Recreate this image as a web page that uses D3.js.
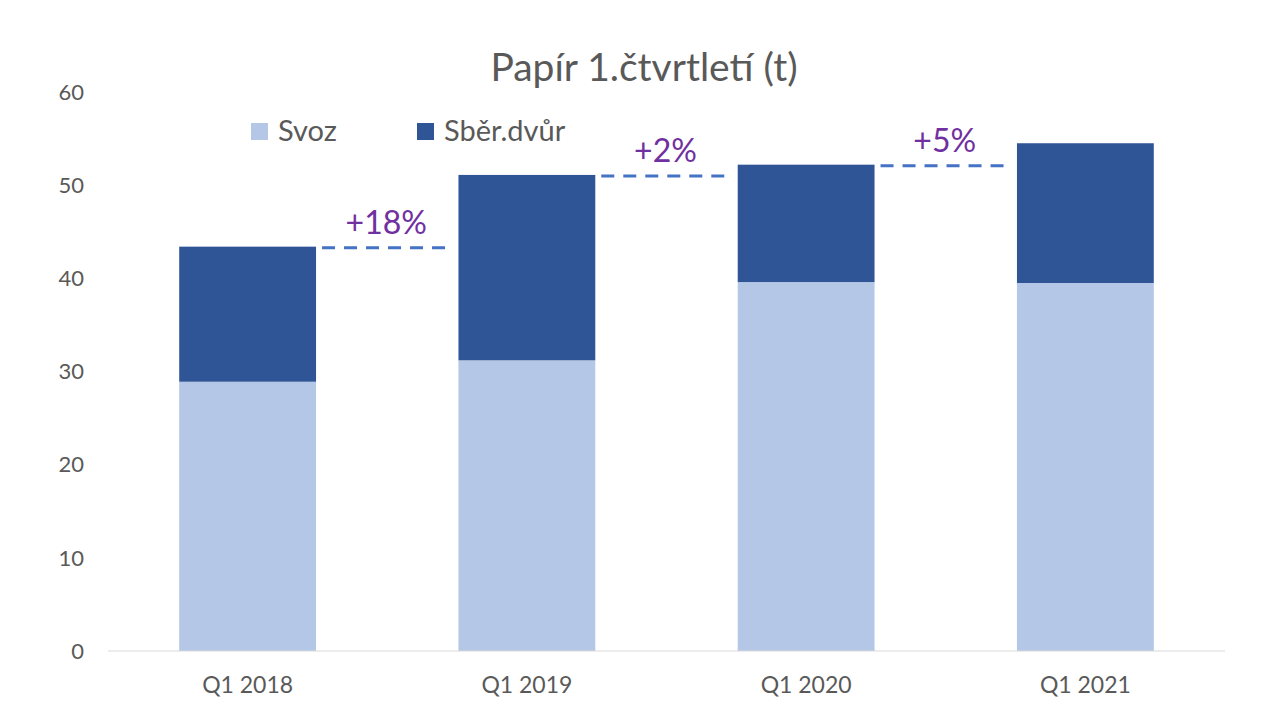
<!DOCTYPE html>
<html>
<head>
<meta charset="utf-8">
<script src="https://cdn.jsdelivr.net/npm/d3@7"></script>
<style>
  body { margin: 0; background: #fff; }
  text { font-family: Lato, "Open Sans", sans-serif; }
</style>
</head>
<body>
<div id="chart"></div>
<script>
const categories = ["Q1 2018", "Q1 2019", "Q1 2020", "Q1 2021"];
const svoz = [28.9, 31.2, 39.6, 39.5];
const sberDvur = [14.5, 19.9, 12.6, 15.0];
const changeLabels = ["+18%", "+2%", "+5%"];
const yTicks = [0, 10, 20, 30, 40, 50, 60];

const width = 1280, height = 720;
const margin = { top: 92, right: 55, bottom: 69, left: 108 };

const svg = d3.select("#chart")
    .append("svg")
        .attr("width", width)
        .attr("height", height);

const x = d3.scaleBand()
    .domain(categories)
    .range([margin.left, width - margin.right])
    .paddingInner(0.51)
    .paddingOuter(0.255);

const y = d3.scaleLinear()
    .domain([0, 60])
    .range([height - margin.bottom, margin.top]);

const colors = { "Svoz": "#B4C7E7", "Sběr.dvůr": "#2F5597" };

const rows = categories.map((c, i) => ({ cat: c, "Svoz": svoz[i], "Sběr.dvůr": sberDvur[i] }));
const stacked = d3.stack().keys(["Svoz", "Sběr.dvůr"])(rows);

// title
svg.append("text")
    .attr("x", 644)
    .attr("y", 81)
    .attr("text-anchor", "middle")
    .attr("fill", "#595959")
    .style("font-size", "39px")
    .text("Papír 1.čtvrtletí (t)");

// y tick labels
svg.selectAll(".ytick")
    .data(yTicks)
    .join("text")
        .attr("class", "ytick")
        .attr("x", 84)
        .attr("y", d => y(d))
        .attr("dy", "0.35em")
        .attr("text-anchor", "end")
        .attr("fill", "#595959")
        .style("font-size", "22px")
        .text(d => d);

// bars
svg.selectAll(".series")
    .data(stacked)
    .join("g")
        .attr("class", "series")
        .attr("fill", d => colors[d.key])
    .selectAll("rect")
    .data(d => d)
    .join("rect")
        .attr("x", d => x(d.data.cat))
        .attr("y", d => y(d[1]))
        .attr("width", x.bandwidth())
        .attr("height", d => y(d[0]) - y(d[1]));

// x axis line
svg.append("line")
    .attr("x1", margin.left)
    .attr("x2", width - margin.right)
    .attr("y1", y(0))
    .attr("y2", y(0))
    .attr("stroke", "#D9D9D9")
    .attr("stroke-width", 1);

// x labels
svg.selectAll(".xlabel")
    .data(categories)
    .join("text")
        .attr("class", "xlabel")
        .attr("x", d => x(d) + x.bandwidth() / 2)
        .attr("y", 693)
        .attr("text-anchor", "middle")
        .attr("fill", "#595959")
        .style("font-size", "23px")
        .text(d => d);

// change lines and labels
const totals = categories.map((c, i) => svoz[i] + sberDvur[i]);
const changes = changeLabels.map((label, i) => ({
    label: label,
    x1: x(categories[i]) + x.bandwidth() + 6,
    x2: x(categories[i + 1]) - 8,
    yv: y(totals[i]) + 1
}));

svg.selectAll(".change-line")
    .data(changes)
    .join("line")
        .attr("class", "change-line")
        .attr("x1", d => d.x1)
        .attr("x2", d => d.x2)
        .attr("y1", d => d.yv)
        .attr("y2", d => d.yv)
        .attr("stroke", "#4472C4")
        .attr("stroke-width", 3)
        .attr("stroke-dasharray", "13,9");

svg.selectAll(".change-label")
    .data(changes)
    .join("text")
        .attr("class", "change-label")
        .attr("x", d => (d.x1 + d.x2) / 2)
        .attr("y", d => d.yv - 14)
        .attr("text-anchor", "middle")
        .attr("fill", "#7030A0")
        .style("font-size", "32px")
        .text(d => d.label);

// legend
const legendItems = [
    { key: "Svoz", x: 251 },
    { key: "Sběr.dvůr", x: 417 }
];
const legend = svg.selectAll(".legend")
    .data(legendItems)
    .join("g")
        .attr("class", "legend")
        .attr("transform", d => `translate(${d.x}, 123)`);
legend.append("rect")
    .attr("width", 17)
    .attr("height", 17)
    .attr("fill", d => colors[d.key]);
legend.append("text")
    .attr("x", 27)
    .attr("y", 18)
    .attr("fill", "#595959")
    .style("font-size", "29px")
    .text(d => d.key);
</script>
</body>
</html>
